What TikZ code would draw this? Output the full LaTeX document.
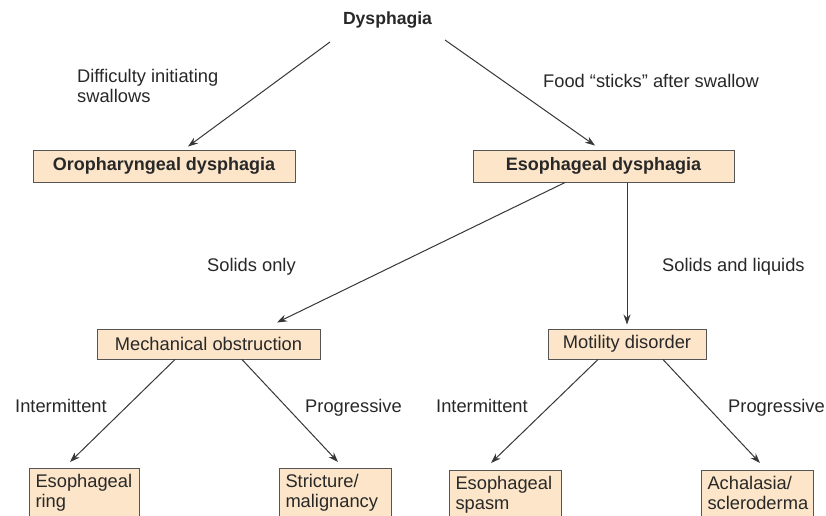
\documentclass[tikz,border=0pt]{standalone}
\usepackage{fontspec}
\setmainfont{Liberation Sans}
\usetikzlibrary{arrows.meta,calc}
\definecolor{boxfill}{RGB}{252,229,200}
\definecolor{boxline}{RGB}{85,85,85}
\definecolor{txt}{RGB}{40,40,40}
\definecolor{arr}{RGB}{55,55,55}
\newcommand{\lowpad}{\rule[-14pt]{0pt}{14pt}}
\begin{document}
\begin{tikzpicture}[x=1pt,y=-1pt,
  every node/.style={text=txt},
  lbl/.style={font=\fontsize{18.3}{19.5}\selectfont, inner sep=0pt},
  hbox/.style={draw=boxline, fill=boxfill, line width=1pt, inner sep=0pt,
    font=\fontsize{18}{20}\selectfont\bfseries},
  mbox/.style={draw=boxline, fill=boxfill, line width=1pt, inner sep=0pt,
    font=\fontsize{18.3}{20}\selectfont},
  leaf/.style={draw=boxline, fill=boxfill, line width=1pt, anchor=north west,
    align=left, inner xsep=6pt, inner ysep=6pt,
    font=\fontsize{18.3}{19.5}\selectfont},
  conn/.style={draw=arr, line width=1pt, -{Stealth[length=10pt,width=7pt]}}
]
\clip (0,0) rectangle (826,515);
\fill[white] (0,0) rectangle (826,515);

\node[lbl, anchor=base, font=\fontsize{17.6}{20}\selectfont\bfseries] (dys) at (387.5,24) {Dysphagia};

\node[hbox, minimum width=262pt, minimum height=32pt] (oro) at (164,166) {Oropharyngeal dysphagia};
\node[hbox, minimum width=261pt, minimum height=32pt] (eso) at (603.5,166) {Esophageal dysphagia};

\node[mbox, minimum width=223pt, minimum height=30pt] (mech) at (208.5,344) {Mechanical obstruction};
\node[mbox, minimum width=158pt, minimum height=30pt] (mot) at (627,344) {Motility disorder};

\node[leaf, text width=98pt] (ring) at (29,468) {Esophageal\\ring\lowpad};
\node[leaf, text width=100pt] (strict) at (279,468) {Stricture/\\malignancy\lowpad};
\node[leaf, text width=100pt] (spasm) at (449,470) {Esophageal\\spasm\lowpad};
\node[leaf, text width=100pt] (acha) at (701,470) {Achalasia/\\scleroderma\lowpad};

% labels
\node[lbl, anchor=north west, align=left] (ldiff) at (77,69.5) {Difficulty initiating\\swallows};
\node[lbl, anchor=base west] (lfood) at (543,87) {Food “sticks” after swallow};
\node[lbl, anchor=base west] (lsol) at (207,271) {Solids only};
\node[lbl, anchor=base west] (lsl) at (662,271) {Solids and liquids};
\node[lbl, anchor=base west] (li1) at (15,412) {Intermittent};
\node[lbl, anchor=base west] (lp1) at (305,412) {Progressive};
\node[lbl, anchor=base west] (li2) at (436,412) {Intermittent};
\node[lbl, anchor=base west] (lp2) at (728,412) {Progressive};

% connectors
\draw[conn] ($(dys.base)+(-57.5,18)$) -- ($(oro.north)+(24,-3)$);
\draw[conn] ($(dys.base)+(57.5,16)$) -- ($(eso.north)+(-8.5,-4)$);
\draw[conn] ($(eso.south)+(-38.5,0)$) -- ($(mech.north)+(68.5,-6)$);
\draw[conn] ($(eso.south)+(23.5,0)$) -- ($(mot.north)+(0,-4)$);
\draw[conn] ($(mech.south)+(-33.5,0)$) -- ($(ring.north west)+(41,-6)$);
\draw[conn] ($(mech.south)+(33.5,0)$) -- ($(strict.north west)+(59,-6)$);
\draw[conn] ($(mot.south)+(-29,0)$) -- ($(spasm.north west)+(42,-7)$);
\draw[conn] ($(mot.south)+(36,0)$) -- ($(acha.north west)+(59,-7)$);
\end{tikzpicture}
\end{document}
